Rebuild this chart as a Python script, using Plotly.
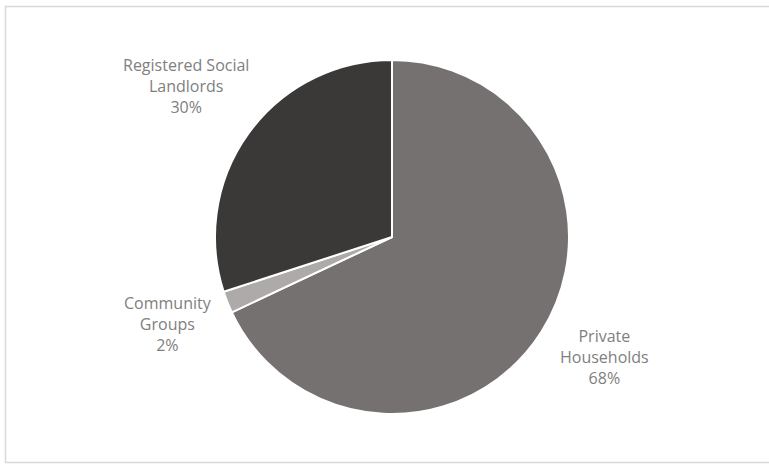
import plotly.graph_objects as go

labels = ["Private Households", "Community Groups", "Registered Social Landlords"]
label_lines = ["Private<br>Households", "Community<br>Groups", "Registered Social<br>Landlords"]
values = [68, 2, 30]
colors = ["#767171", "#aeaaaa", "#3b3838"]

W, H = 769, 464
fig = go.Figure(go.Pie(
    labels=labels, values=values, sort=False, direction="clockwise", rotation=0,
    marker=dict(colors=colors, line=dict(color="white", width=2)),
    textinfo="none", hoverinfo="label+percent", showlegend=False,
    domain=dict(x=[215 / W, 569 / W], y=[(H - 414) / H, (H - 60) / H]),
))

label_pos = [(604, 357), (168, 324), (186, 86)]
for txt, v, (px, py) in zip(label_lines, values, label_pos):
    fig.add_annotation(text=f"{txt}<br>{v}%", x=px / W, y=1 - py / H, xref="paper", yref="paper",
                       showarrow=False, xanchor="center", yanchor="middle", align="center",
                       font=dict(family="Open Sans", size=16, color="#808080"))

fig.add_shape(type="rect", xref="paper", yref="paper", x0=5.5 / W, x1=1.05, y0=1 - 6.5 / H, y1=1 - 462.5 / H,
              line=dict(color="#d9d9d9", width=1.5), fillcolor="rgba(0,0,0,0)")

fig.update_layout(width=W, height=H, margin=dict(l=0, r=0, t=0, b=0),
                  paper_bgcolor="white", plot_bgcolor="white")
fig.write_html("out.html")
